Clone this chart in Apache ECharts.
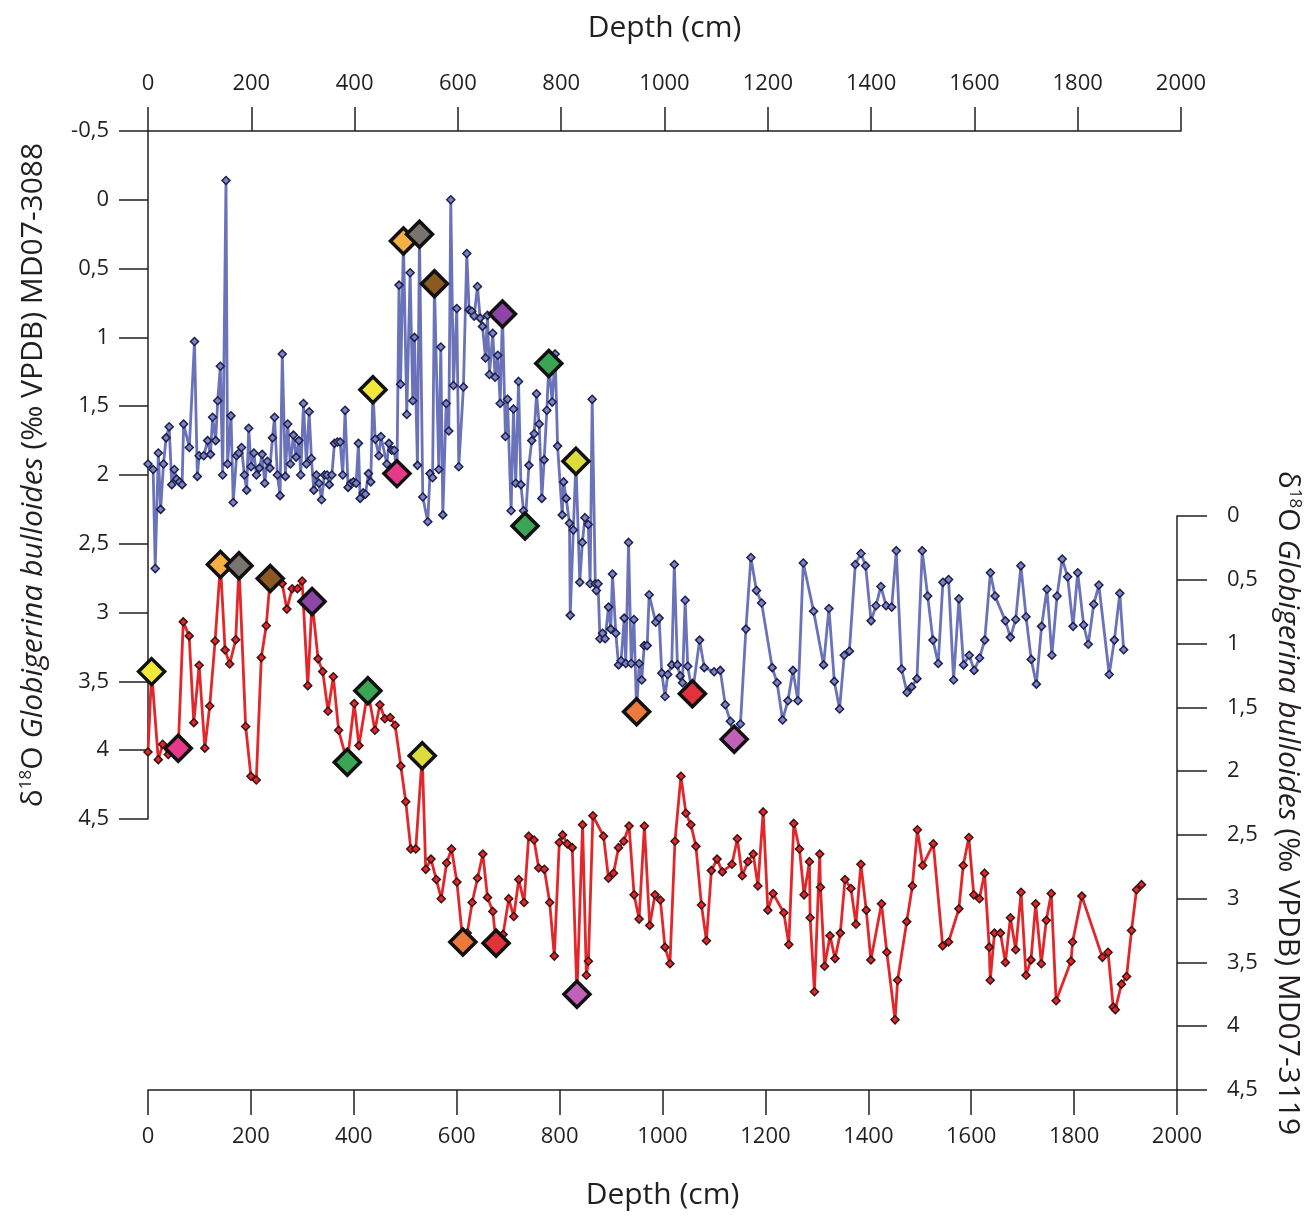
<!DOCTYPE html>
<html>
<head>
<meta charset="utf-8">
<script src="https://cdn.jsdelivr.net/npm/echarts@6/dist/echarts.min.js"></script>
<style>
html,body{margin:0;padding:0;background:#fff;}
#chart{width:1311px;height:1218px;}
</style>
</head>
<body>
<div id="chart"></div>
<script>
// ---- Data: MD07-3088 (upper curve, left axis) ----
const depth3088 = [0,10,14,20,24.5,30,35,41,46,51,55.5,61,66,69,80,90,95.5,99,108,115.5,121,125,131,135,140,144.6,151,154,160.7,165,171.5,176,181,186.6,191,195,199.5,205,210,215.6,221,226,231,236,241,245,250.5,255.7,260,266,270.5,275.7,281.5,286.7,292,295.7,301,306.7,312,316.4,321,326,331,336,341.6,346.7,351,356,361,366.7,372,377,381.6,387.4,392.6,397.7,403,407.4,410.7,416.5,421,426.8,431.3,435.5,440,447,451,462.5,466.4,472,476.7,482,486,489,494.6,501,507.5,512.6,515.9,521.7,525.6,532,541.7,546,551,554.6,563,566.9,570.8,577.3,582.4,586.2,591.4,597.8,601.7,610.7,617.2,621.7,626.9,631.4,637.9,643,647.6,653.4,657.2,661.1,667.5,672,677.2,681.8,686.3,692,696,703,707.6,712,717.4,722,727,730,737.5,743,747.7,752.2,757.4,762.5,767,772.2,776,782.5,788.3,793,802,804.6,809.7,816,817.5,823.5,828.5,836,841,846,852.4,856,860,866,868,871.4,875,880,885,891.6,896,899.3,905.7,911,916,922,925,930.4,935.6,940.8,946,951,956,960.7,966.5,970.3,983,989.6,994.7,1001,1006.3,1014,1019,1025,1030.3,1034.8,1040,1045,1054,1068,1077,1096,1108,1117.6,1127.5,1135,1147,1157.6,1167.3,1178,1188,1208.6,1218,1228.6,1239,1248.6,1258.3,1268.7,1288.7,1308,1318.4,1328.8,1339,1348,1358,1369.4,1380.4,1389.4,1400,1409.4,1419,1429,1439.8,1448.8,1459,1469.5,1478.5,1488.8,1499,1509.5,1519.8,1530,1539,1550,1559.7,1570,1579,1590,1599.5,1610,1620,1631,1640,1660,1669.7,1680,1690,1700,1710,1720,1730,1740.5,1750,1760,1770,1780.5,1791,1800,1811.5,1820.5,1831,1841,1861,1871,1881.5,1889];
const d18O3088 = [1.92,1.96,2.68,1.84,2.25,1.92,1.73,1.65,2.07,1.96,2.03,2.05,2.07,1.63,1.80,1.03,2.01,1.86,1.86,1.75,1.85,1.58,1.75,1.46,1.21,2.0,-0.14,1.92,1.57,2.20,1.86,1.84,1.80,2.0,2.11,1.66,1.94,1.84,2.0,1.95,1.85,2.06,1.90,1.95,1.73,1.58,2.0,2.15,1.12,2.01,1.63,1.92,1.71,1.87,1.75,2.0,1.48,1.92,1.54,1.88,2.11,2.0,2.06,2.18,2.0,2.0,2.07,2.0,1.77,1.76,1.76,2.0,1.53,2.09,2.06,2.05,2.06,1.77,2.17,2.13,2.14,1.99,2.05,1.38,1.74,1.86,1.72,1.92,1.77,1.82,1.82,1.99,0.62,1.34,0.30,1.56,0.53,1.46,1.0,1.93,0.25,2.16,2.34,1.99,2.02,0.61,1.96,1.07,2.29,1.48,1.68,0.0,1.35,0.79,1.94,1.36,0.39,0.80,0.81,0.845,0.63,0.86,0.92,1.15,0.84,1.27,0.97,1.29,1.13,1.48,0.83,1.72,1.45,2.26,1.52,2.06,1.32,2.07,2.26,2.37,1.93,1.75,1.70,1.41,1.63,2.17,1.89,1.53,1.19,1.47,1.12,1.79,2.29,2.05,2.17,2.35,3.02,2.40,1.90,2.78,2.49,2.31,2.36,2.79,1.45,2.79,2.84,2.79,3.19,3.15,3.19,2.96,3.12,2.72,3.15,3.38,3.35,3.04,3.37,2.49,3.37,3.05,3.72,3.37,3.49,3.24,3.24,2.87,3.07,3.04,3.44,3.61,3.45,3.38,2.65,3.38,3.46,3.51,2.91,3.39,3.59,3.20,3.40,3.43,3.42,3.67,3.79,3.92,3.81,3.12,2.60,2.84,2.93,3.40,3.51,3.78,3.64,3.42,3.64,2.64,2.99,3.38,2.97,3.50,3.70,3.31,3.28,2.65,2.57,2.66,3.06,2.95,2.81,2.95,2.96,2.55,3.41,3.58,3.54,3.48,2.55,2.88,3.20,3.37,2.78,2.76,3.49,2.90,3.38,3.31,3.42,3.33,3.20,2.71,2.88,3.06,3.18,3.05,2.66,3.03,3.34,3.52,3.10,2.83,3.31,2.88,2.61,2.74,3.10,2.71,3.09,3.23,2.94,2.80,3.45,3.20,2.86,3.27];

// ---- Data: MD07-3119 (lower curve, right axis) ----
const depth3119 = [0,7,20,28.5,39.5,58.8,68.5,80,89,99.4,110.4,120,130.4,140.8,149.8,158.8,170.5,176.9,189.8,200,210.5,220.2,229.8,237.6,260.8,269.9,280.2,290.5,299.6,310.5,318.9,330.5,339.6,349.9,360.2,370.5,387.3,400.9,410,427.4,441,450.7,460.4,470.7,480.4,491.4,501,510.7,520.4,533,539.8,550,560.4,570,580.4,590,600.4,612,620.5,630,640.5,650.8,659.9,670.2,676.6,690.2,701.2,710.9,720.6,730.9,740,750.3,759.4,770.3,780.7,789.7,799.4,805.8,814.9,824.6,833.7,844.7,852,856,864.7,885.4,895,904.8,914.5,924.8,935,944.8,954.5,964.8,975.1,985.4,995.8,1004.8,1014.5,1024.2,1035.8,1045.5,1055.2,1065,1075.7,1085.4,1095,1106,1116.3,1135,1145.4,1155,1166,1176.4,1185.4,1195.7,1204.8,1215,1235.8,1245.5,1255.2,1266.2,1275.2,1285.6,1287,1295.3,1305.6,1307,1315,1325.6,1335.3,1345.6,1354.7,1366.3,1376,1385.6,1396,1405,1425.7,1436,1452,1457,1474.7,1485.7,1495.4,1505.7,1526.4,1544.5,1556,1576,1584.5,1595.4,1605,1616,1626,1635,1637,1645.2,1656.8,1666.5,1676.2,1686.5,1696.9,1706.5,1716.2,1725.3,1736.3,1746,1755.6,1765,1794,1797,1815,1855,1866,1876,1880,1892,1902,1911.6,1921.3,1931];
const d18O3119 = [1.85,1.22,1.91,1.79,1.87,1.82,0.83,0.94,1.62,1.17,1.82,1.49,0.98,0.38,1.05,1.16,0.97,0.39,1.65,2.04,2.07,1.11,0.86,0.49,0.53,0.73,0.57,0.57,0.51,1.33,0.67,1.12,1.22,1.53,1.26,1.68,1.93,1.47,1.80,1.37,1.68,1.48,1.59,1.58,1.64,1.96,2.24,2.61,2.61,1.88,2.77,2.69,2.85,3.0,2.72,2.61,2.87,3.34,3.27,3.03,2.84,2.65,2.99,3.10,3.35,3.28,3.0,3.14,2.85,3.03,2.51,2.54,2.76,2.77,3.03,3.45,2.56,2.50,2.57,2.60,3.75,2.42,3.60,3.49,2.35,2.51,2.84,2.80,2.60,2.55,2.43,2.97,3.16,2.43,3.21,2.97,3.01,3.38,3.51,2.55,2.04,2.33,2.42,2.59,3.05,3.33,2.78,2.69,2.79,2.73,2.53,2.82,2.71,2.65,2.90,2.32,3.09,2.96,3.11,3.36,2.41,2.61,2.97,2.71,3.15,3.73,2.65,2.91,3.53,3.29,3.47,3.27,2.85,2.92,3.20,2.73,3.09,3.48,3.04,3.42,3.95,3.64,3.18,2.90,2.46,2.74,2.57,3.37,3.34,3.08,2.74,2.52,2.97,3.00,2.80,3.38,3.64,3.27,3.27,3.50,3.15,3.40,2.95,3.60,3.48,3.04,3.51,3.17,2.96,3.80,3.49,3.34,2.98,3.46,3.42,3.85,3.87,3.67,3.61,3.25,2.93,2.89];

// ---- Tie points (large diamonds) ----
const tieDepth3088 = [435.5,482,494.6,525.6,554.6,686.3,730,776,828.5,946,1054,1135];
const tieValue3088 = [1.38,1.99,0.30,0.25,0.61,0.83,2.37,1.19,1.90,3.72,3.59,3.92];
const tieDepth3119 = [7,58.8,140.8,176.9,237.6,318.9,387.3,427.4,533,612,676.6,833.7];
const tieValue3119 = [1.22,1.82,0.38,0.39,0.49,0.67,1.93,1.37,1.88,3.34,3.35,3.75];
const tieColors = ['#f1e83a','#e8388a','#f4b042','#7a7470','#8a5a22','#8e44a8','#3aa655','#3aa655','#dcdc3c','#ec7a3c','#e3333a','#c360b8'];

// ---- Axis ticks ----
const depthTicks = [0,200,400,600,800,1000,1200,1400,1600,1800,2000];

const FONT = 'Open Sans';
const INK = '#231f20';
const fmt = v => String(v).replace('.', ',');
const fmtDepth = v => String(v);
const zip = (a, b) => a.map((x, i) => [x, b[i]]);

const chart = echarts.init(document.getElementById('chart'), null, {renderer: 'canvas'});

const lineAx = {show: true, onZero: false, lineStyle: {color: INK, width: 1.5}};
const tick = len => ({show: true, inside: false, length: len, lineStyle: {color: INK, width: 1.5}});
const lab = (margin, extra) => Object.assign({color: INK, fontSize: 22, fontFamily: FONT, margin: margin}, extra || {});

const titleRich = {
  a: {fontSize: 30, fontFamily: FONT, color: INK},
  s: {fontSize: 17, fontFamily: FONT, color: INK, verticalAlign: 'top', padding: [0, 0, 12, 0]},
  i: {fontSize: 30, fontFamily: FONT, color: INK, fontStyle: 'italic'}
};

chart.setOption({
  backgroundColor: '#ffffff',
  animation: false,
  grid: [
    {left: 148, top: 131, width: 1033, height: 688},
    {left: 148, top: 516, width: 1029, height: 574}
  ],
  xAxis: [
    {
      gridIndex: 0, type: 'value', position: 'top', min: 0, max: 2000, interval: 200,
      axisLine: lineAx, axisTick: tick(24), splitLine: {show: false},
      axisLabel: lab(36, {formatter: fmtDepth}),
      name: 'Depth (cm)', nameLocation: 'middle', nameGap: 88,
      nameTextStyle: {color: INK, fontSize: 30, fontFamily: FONT}
    },
    {
      gridIndex: 1, type: 'value', position: 'bottom', min: 0, max: 2000, interval: 200,
      axisLine: lineAx, axisTick: tick(25), splitLine: {show: false},
      axisLabel: lab(36, {formatter: fmtDepth}),
      name: 'Depth (cm)', nameLocation: 'middle', nameGap: 90,
      nameTextStyle: {color: INK, fontSize: 30, fontFamily: FONT}
    }
  ],
  yAxis: [
    {
      gridIndex: 0, type: 'value', position: 'left', inverse: true, min: -0.5, max: 4.5, interval: 0.5,
      axisLine: lineAx, axisTick: tick(29), splitLine: {show: false},
      axisLabel: lab(39, {formatter: fmt}),
      name: '{a|δ}{s|18}{a|O }{i|Globigerina bulloides}{a| (‰ VPDB) MD07-3088}',
      nameLocation: 'middle', nameGap: 100, nameRotate: 90,
      nameTextStyle: {color: INK, fontSize: 30, fontFamily: FONT, rich: titleRich}
    },
    {
      gridIndex: 1, type: 'value', position: 'right', inverse: true, min: 0, max: 4.5, interval: 0.5,
      axisLine: lineAx, axisTick: tick(30), splitLine: {show: false},
      axisLabel: lab(50, {formatter: fmt, align: 'left'}),
      name: '{a|δ}{s|18}{a|O }{i|Globigerina bulloides}{a| (‰ VPDB) MD07-3119}',
      nameLocation: 'middle', nameGap: 96, nameRotate: -90,
      nameTextStyle: {color: INK, fontSize: 30, fontFamily: FONT, rich: titleRich}
    }
  ],
  series: [
    {
      type: 'line', xAxisIndex: 0, yAxisIndex: 0, clip: false,
      data: zip(depth3088, d18O3088),
      symbol: 'diamond', symbolSize: 8, showAllSymbol: true,
      lineStyle: {color: '#6a72b9', width: 2.8},
      itemStyle: {color: '#7a82c8', borderColor: '#1d2048', borderWidth: 1.5},
      z: 2
    },
    {
      type: 'line', xAxisIndex: 1, yAxisIndex: 1, clip: false,
      data: zip(depth3119, d18O3119),
      symbol: 'diamond', symbolSize: 8, showAllSymbol: true,
      lineStyle: {color: '#e3262a', width: 2.8},
      itemStyle: {color: '#e3262a', borderColor: '#3a1414', borderWidth: 1.5},
      z: 2
    },
    {
      type: 'scatter', xAxisIndex: 0, yAxisIndex: 0, clip: false,
      data: tieDepth3088.map((d, i) => ({value: [d, tieValue3088[i]], itemStyle: {color: tieColors[i]}})),
      symbol: 'diamond', symbolSize: 26,
      itemStyle: {borderColor: '#111', borderWidth: 3.5, opacity: 1},
      z: 5
    },
    {
      type: 'scatter', xAxisIndex: 1, yAxisIndex: 1, clip: false,
      data: tieDepth3119.map((d, i) => ({value: [d, tieValue3119[i]], itemStyle: {color: tieColors[i]}})),
      symbol: 'diamond', symbolSize: 26,
      itemStyle: {borderColor: '#111', borderWidth: 3.5, opacity: 1},
      z: 5
    }
  ]
});
</script>
</body>
</html>
